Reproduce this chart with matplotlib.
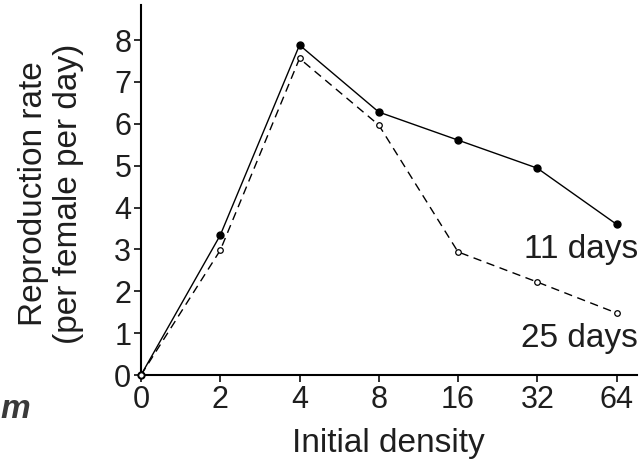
import matplotlib
matplotlib.use("Agg")
import matplotlib.pyplot as plt

plt.rcParams['font.family'] = ['Liberation Sans', 'DejaVu Sans']

density_labels = ["0", "2", "4", "8", "16", "32", "64"]
rate_11_days = [0, 3.34, 7.88, 6.28, 5.61, 4.94, 3.60]
rate_25_days = [0, 2.98, 7.56, 5.97, 2.94, 2.22, 1.48]

pos = list(range(len(density_labels)))
txt = '#1e1e1e'

fig = plt.figure(figsize=(6.41, 4.68), dpi=100)
ax = fig.add_axes([0.22, 0.1987, 0.774, 0.79])

ax.plot(pos, rate_11_days, color='black', lw=1.0, marker='o', ms=5,
        markerfacecolor='black', clip_on=False, zorder=3)
ax.plot(pos, rate_25_days, color='black', lw=1.0, ls=(0, (6, 4)), marker='o', ms=4,
        markerfacecolor='white', markeredgewidth=0.9, clip_on=False, zorder=3)

ax.text(6.27, 3.0, "11 days", ha='right', va='center', fontsize=24, color=txt)
ax.text(6.27, 0.88, "25 days", ha='right', va='center', fontsize=24, color=txt)

ax.set_xlim(0, 6.26)
ax.set_ylim(0, 8.83)
ax.set_xticks(pos)
ax.set_xticklabels(density_labels)
ax.set_yticks(range(0, 9))

for s in ['top', 'right']:
    ax.spines[s].set_visible(False)
for s in ['left', 'bottom']:
    ax.spines[s].set_linewidth(1.5)
ax.tick_params(axis='both', labelsize=22, width=1.3, length=5, pad=2, colors=txt)

fig.text(388 / 641, 1 - 452 / 468, "Initial density", fontsize=24, color=txt,
         ha='center', va='baseline')
fig.text(51 / 641, 1 - 194 / 468, "Reproduction rate\n(per female per day)", fontsize=24,
         color=txt, rotation=90, ha='center', va='center', multialignment='center',
         linespacing=1.2)

fig.text(0.047, 1 - 418 / 468, "m", fontsize=24, fontweight='bold', fontstyle='italic',
         color='#3a3a3a', ha='right', va='baseline')

fig.savefig("out.png", dpi=100)
